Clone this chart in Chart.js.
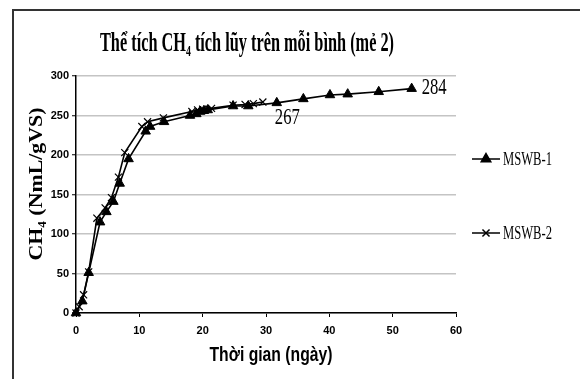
<!DOCTYPE html>
<html lang="vi">
<head>
<meta charset="UTF-8">
<title>Thể tích CH4 tích lũy</title>
<script src="https://cdn.jsdelivr.net/npm/chart.js"></script>
<style>
    html, body { margin: 0; padding: 0; background: #fff; }
    .wrap { position: relative; width: 580px; height: 379px; overflow: hidden; }
    .frame { position: absolute; left: 12px; top: 9px; width: 600px; height: 400px; border: 2px solid #333; box-sizing: border-box; }
    canvas { position: absolute; left: 0; top: 0; }
</style>
</head>
<body>
<div class="wrap">
    <div class="frame"></div>
    <canvas id="chart" width="580" height="379"></canvas>
</div>
<script>
    // MSWB-1 (triangles)
    const daysB1 = [0, 1, 2, 3.8, 4.8, 5.9, 6.9, 8.3, 11, 11.7, 13.9, 18, 19, 19.6, 20.2, 20.8, 24.8, 27.2, 31.7, 35.9, 40.1, 42.9, 47.8, 53];
    const ch4B1 = [0, 15, 51, 115, 128, 141, 164, 195, 230, 236, 242, 250, 252, 255, 256, 257, 262, 262, 266, 271, 276, 277, 280, 284];
    // MSWB-2 (crosses)
    const daysB2 = [0, 0.5, 1.2, 2, 3.3, 4.6, 5.6, 6.7, 7.7, 10.4, 11.3, 13.8, 18.3, 19.2, 20, 21.4, 24.8, 26.7, 28, 29.5];
    const ch4B2 = [0, 8, 23, 52, 120, 133, 146, 172, 203, 236, 242, 247, 255, 257, 258, 259, 263, 264, 265, 267];

    const seriesNames = ['MSWB-1', 'MSWB-2'];
    const xTicks = [0, 10, 20, 30, 40, 50, 60];
    const yTicks = [0, 50, 100, 150, 200, 250, 300];

    const titleText = 'Thể tích CH₄ tích lũy trên mỗi bình (mẻ 2)';
    const yTitle = 'CH₄ (NmL/gVS)';
    const xTitle = 'Thời gian (ngày)';

    const pts = (xs, ys) => xs.map((x, i) => ({ x: x, y: ys[i] }));

    // draws text squeezed/stretched to match the old Excel rendering
    function stretchText(ctx, text, x, y, font, targetW, sy, align, rot) {
        ctx.save();
        ctx.font = font;
        const w = ctx.measureText(text).width;
        const sx = targetW ? targetW / w : 1;
        ctx.translate(x, y);
        if (rot) ctx.rotate(rot);
        ctx.scale(sx, sy);
        ctx.textAlign = align || 'left';
        ctx.textBaseline = 'alphabetic';
        ctx.fillStyle = '#000';
        ctx.fillText(text, 0, 0);
        ctx.restore();
    }

    const extras = {
        id: 'extras',
        afterDraw(chart) {
            const ctx = chart.ctx;
            const xs = chart.scales.x, ys = chart.scales.y;

            stretchText(ctx, titleText, 247, 51, 'bold 16px "Liberation Serif", serif', 294, 1.65, 'center');
            stretchText(ctx, yTitle, 42, 184, 'bold 16px "Liberation Serif", serif', 153, 1.15, 'center', -Math.PI / 2);
            stretchText(ctx, xTitle, (xs.left + xs.right) / 2 + 5, 361, 'bold 14px "Liberation Sans", Arial, sans-serif', 123, 1.4, 'center');

            // end labels
            const last1 = ch4B1.length - 1, last2 = ch4B2.length - 1;
            stretchText(ctx, String(ch4B1[last1]), xs.getPixelForValue(daysB1[last1]) + 10, ys.getPixelForValue(ch4B1[last1]) + 5,
                '17px "Liberation Serif", serif', 25, 1.4, 'left');
            stretchText(ctx, String(ch4B2[last2]), xs.getPixelForValue(daysB2[last2]) + 12, ys.getPixelForValue(ch4B2[last2]) + 22,
                '17px "Liberation Serif", serif', 25, 1.4, 'left');

            // legend
            const legY = [159, 233];
            chart.data.datasets.forEach((ds, i) => {
                const y = legY[i];
                ctx.save();
                ctx.strokeStyle = '#000';
                ctx.fillStyle = '#000';
                ctx.lineWidth = 1.5;
                ctx.beginPath();
                ctx.moveTo(472, y);
                ctx.lineTo(500, y);
                ctx.stroke();
                Chart.helpers.drawPoint(ctx, {
                    pointStyle: ds.pointStyle, radius: ds.pointRadius, borderWidth: 1.3, rotation: 0
                }, 486, y);
                ctx.restore();
                stretchText(ctx, seriesNames[i], 503, y + 6, '12px "Liberation Serif", serif', 49, 1.6, 'left');
            });
        }
    };

    new Chart('chart', {
        type: 'line',
        data: {
            datasets: [
                {
                    label: seriesNames[0],
                    data: pts(daysB1, ch4B1),
                    borderColor: '#000',
                    backgroundColor: '#000',
                    borderWidth: 1.6,
                    pointStyle: 'triangle',
                    pointRadius: 5.5,
                    pointBorderWidth: 1,
                    tension: 0,
                    clip: false
                },
                {
                    label: seriesNames[1],
                    data: pts(daysB2, ch4B2),
                    borderColor: '#000',
                    backgroundColor: '#000',
                    borderWidth: 1.6,
                    pointStyle: 'crossRot',
                    pointRadius: 5,
                    pointBorderWidth: 1.2,
                    tension: 0,
                    clip: false
                }
            ]
        },
        options: {
            responsive: false,
            animation: false,
            events: [],
            layout: { padding: { left: 0, top: 76, right: 124, bottom: 0 } },
            plugins: {
                legend: { display: false },
                title: { display: false },
                tooltip: { enabled: false }
            },
            scales: {
                x: {
                    type: 'linear',
                    min: 0,
                    max: 60,
                    afterBuildTicks: s => { s.ticks = xTicks.map(v => ({ value: v })); },
                    afterFit: s => { s.height = 66; },
                    grid: { drawOnChartArea: false, tickLength: 4, tickColor: '#000', tickWidth: 1 },
                    border: { color: '#000', width: 1.5 },
                    ticks: {
                        color: '#000',
                        padding: 7,
                        maxRotation: 0,
                        font: { family: '"Liberation Sans Narrow", "Liberation Sans", sans-serif', size: 11, weight: 'bold' }
                    }
                },
                y: {
                    min: 0,
                    max: 300,
                    afterBuildTicks: s => { s.ticks = yTicks.map(v => ({ value: v })); },
                    afterFit: s => { s.width = 76; },
                    grid: { color: '#c4c4c4', lineWidth: 1.5, tickLength: 4, tickColor: '#000', tickWidth: 1 },
                    border: { color: '#000', width: 1.5 },
                    ticks: {
                        color: '#000',
                        padding: 3,
                        font: { family: '"Liberation Sans Narrow", "Liberation Sans", sans-serif', size: 11, weight: 'bold' }
                    }
                }
            }
        },
        plugins: [extras]
    });
</script>
</body>
</html>
